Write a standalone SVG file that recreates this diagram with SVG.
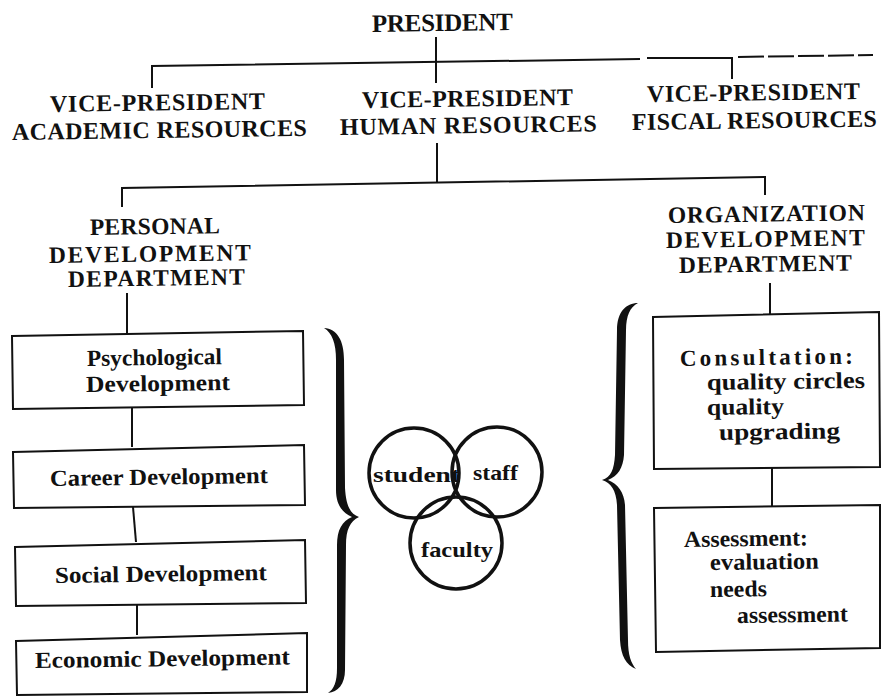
<svg xmlns="http://www.w3.org/2000/svg" width="881" height="696" viewBox="0 0 881 696">
  <style>
    .t { font-family: "Liberation Serif", "Times New Roman", serif; font-weight: bold; fill: #111; }
    .h1 { font-size: 25px; }
    .h2 { font-size: 24px; }
    .h3 { font-size: 23.5px; }
    .b { font-size: 23px; }
    .v { font-size: 22px; }
    .ln { stroke: #111; stroke-width: 2; fill: none; }
    .dash { stroke: #111; stroke-width: 2; fill: none; stroke-dasharray: 26 4; }
    .box { fill: none; stroke: #111; stroke-width: 2; stroke-linejoin: miter; }
    .circ { fill: none; stroke: #111; stroke-width: 3.5; }
    .brace { fill: #111; }
  </style>
  <rect width="881" height="696" fill="#fff"/>

  <!-- connectors -->
  <g id="connectors">
    <path class="ln" d="M436 37 L436 83"/>
    <path class="ln" d="M152 88 L152 66 L640 59"/>
    <path class="ln" d="M647 58 L732 58 L732 79"/>
    <path class="dash" d="M738 57 L873 55"/>
    <path class="ln" d="M437 143 L437 182"/>
    <path class="ln" d="M122 207 L122 188 L765 177 L765 195"/>
    <path class="ln" d="M127 293 L127 334"/>
    <path class="ln" d="M132 407 L132 447"/>
    <path class="ln" d="M133 507 L136 542"/>
    <path class="ln" d="M137 605 L137 635"/>
    <path class="ln" d="M770 283 L770 315"/>
    <path class="ln" d="M772 468 L772 507"/>
  </g>

  <!-- top level -->
  <g id="president">
    <text class="t h1" x="372" y="32" textLength="141" transform="rotate(-0.8 372 32)">PRESIDENT</text>
  </g>
  <g id="vp-academic">
    <text class="t h2" x="50" y="112" textLength="215" transform="rotate(-0.8 50 112)">VICE-PRESIDENT</text>
    <text class="t h2" x="12" y="140" textLength="295" transform="rotate(-0.8 12 140)">ACADEMIC RESOURCES</text>
  </g>
  <g id="vp-human">
    <text class="t h2" x="362" y="108" textLength="211" transform="rotate(-0.8 362 108)">VICE-PRESIDENT</text>
    <text class="t h2" x="340" y="135" textLength="257" transform="rotate(-0.8 340 135)">HUMAN RESOURCES</text>
  </g>
  <g id="vp-fiscal">
    <text class="t h2" x="647" y="102" textLength="213" transform="rotate(-0.8 647 102)">VICE-PRESIDENT</text>
    <text class="t h2" x="632" y="130" textLength="245" transform="rotate(-0.8 632 130)">FISCAL RESOURCES</text>
  </g>

  <!-- departments -->
  <g id="dept-personal">
    <text class="t h3" x="90" y="235" textLength="130" transform="rotate(-0.8 90 235)">PERSONAL</text>
    <text class="t h3" x="49" y="263" textLength="202" transform="rotate(-0.8 49 263)">DEVELOPMENT</text>
    <text class="t h3" x="68" y="287" textLength="177" transform="rotate(-0.8 68 287)">DEPARTMENT</text>
  </g>
  <g id="dept-organization">
    <text class="t h3" x="668" y="223" textLength="197" transform="rotate(-0.8 668 223)">ORGANIZATION</text>
    <text class="t h3" x="666" y="248" textLength="199" transform="rotate(-0.8 666 248)">DEVELOPMENT</text>
    <text class="t h3" x="679" y="273" textLength="173" transform="rotate(-0.8 679 273)">DEPARTMENT</text>
  </g>

  <!-- personal development boxes -->
  <g id="box-psychological">
    <path class="box" d="M12 336 L303 331 L304 405 L13 409 Z"/>
    <text class="t b" x="87" y="366" textLength="135" lengthAdjust="spacingAndGlyphs" transform="rotate(-0.8 87 366)">Psychological</text>
    <text class="t b" x="86" y="392" textLength="144" lengthAdjust="spacingAndGlyphs" transform="rotate(-0.8 86 392)">Development</text>
  </g>
  <g id="box-career">
    <path class="box" d="M13 452 L304 445 L305 505 L14 508 Z"/>
    <text class="t b" x="50" y="486" textLength="218" lengthAdjust="spacingAndGlyphs" transform="rotate(-0.8 50 486)">Career Development</text>
  </g>
  <g id="box-social">
    <path class="box" d="M15 547 L305 540 L306 603 L16 606 Z"/>
    <text class="t b" x="55" y="583" textLength="212" lengthAdjust="spacingAndGlyphs" transform="rotate(-0.8 55 583)">Social Development</text>
  </g>
  <g id="box-economic">
    <path class="box" d="M16 641 L307 633 L307 692 L17 695 Z"/>
    <text class="t b" x="35" y="668" textLength="255" lengthAdjust="spacingAndGlyphs" transform="rotate(-0.8 35 668)">Economic Development</text>
  </g>

  <!-- organization development boxes -->
  <g id="box-consultation">
    <path class="box" d="M653 317 L879 312 L880 467 L654 469 Z"/>
    <text class="t b" x="680" y="366" textLength="173" transform="rotate(-0.8 680 366)">Consultation:</text>
    <text class="t b" x="707" y="390" textLength="158" lengthAdjust="spacingAndGlyphs" transform="rotate(-0.8 707 390)">quality circles</text>
    <text class="t b" x="707" y="415" textLength="77" lengthAdjust="spacingAndGlyphs" transform="rotate(-0.8 707 415)">quality</text>
    <text class="t b" x="719" y="440" textLength="121" lengthAdjust="spacingAndGlyphs" transform="rotate(-0.8 719 440)">upgrading</text>
  </g>
  <g id="box-assessment">
    <path class="box" d="M654 508 L880 505 L880 648 L656 652 Z"/>
    <text class="t b" x="684" y="547" textLength="124" lengthAdjust="spacingAndGlyphs" transform="rotate(-0.8 684 547)">Assessment:</text>
    <text class="t b" x="710" y="570" textLength="109" lengthAdjust="spacingAndGlyphs" transform="rotate(-0.8 710 570)">evaluation</text>
    <text class="t b" x="710" y="597" textLength="57" lengthAdjust="spacingAndGlyphs" transform="rotate(-0.8 710 597)">needs</text>
    <text class="t b" x="737" y="623" textLength="111" lengthAdjust="spacingAndGlyphs" transform="rotate(-0.8 737 623)">assessment</text>
  </g>

  <!-- braces -->
  <g id="brace-left">
    <path class="brace" d="M324 328 C337 329 344 340 344 360 L345 488 C346 505 350 514 359 517 C350 521 346 530 346 545 L345 670 C345 684 338 692 328 693 C334 689 337 682 337 668 L337 545 C337 530 342 521 352 517 C342 513 336 504 336 490 L336 360 C336 343 332 333 324 328 Z"/>
  </g>
  <g id="brace-right">
    <path class="brace" d="M638 303 C626 303 617 312 617 330 L615 455 C614 470 611 477 602 480 C611 483 616 490 617 505 L620 640 C621 656 626 665 636 669 C631 663 628 655 628 640 L625 505 C624 492 618 484 608 480 C618 476 623 468 624 455 L626 330 C626 316 630 307 638 303 Z"/>
  </g>

  <!-- constituency circles -->
  <g id="venn">
    <g id="circle-student">
      <circle class="circ" cx="414" cy="473" r="45"/>
      <text class="t v" x="373" y="482" textLength="87" lengthAdjust="spacingAndGlyphs">student</text>
    </g>
    <g id="circle-staff">
      <circle class="circ" cx="497" cy="472" r="45"/>
      <text class="t v" x="473" y="480" textLength="45" lengthAdjust="spacingAndGlyphs">staff</text>
    </g>
    <g id="circle-faculty">
      <circle class="circ" cx="456" cy="543" r="46"/>
      <text class="t v" x="421" y="557" textLength="72" lengthAdjust="spacingAndGlyphs">faculty</text>
    </g>
  </g>
</svg>
